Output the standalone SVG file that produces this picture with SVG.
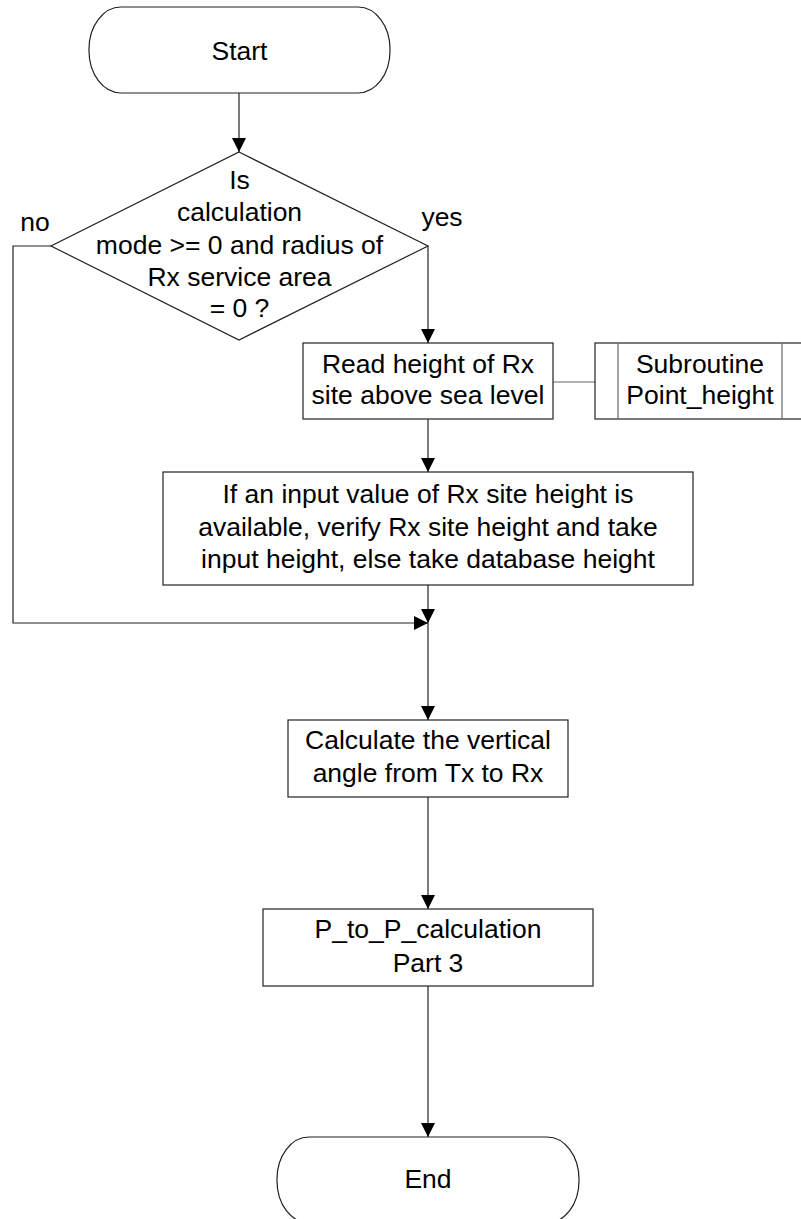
<svg xmlns="http://www.w3.org/2000/svg" width="801" height="1219" viewBox="0 0 801 1219">
<style>
.s{fill:#fff;stroke:#222;stroke-width:1.2}
.t{font-family:"Liberation Sans",Arial,sans-serif;font-size:26.5px;fill:#000;text-anchor:middle}
.c{fill:none;stroke:#222;stroke-width:1.2}
.g{stroke:#666;stroke-width:1.2}
</style>
<defs>
<marker id="ah" markerUnits="userSpaceOnUse" markerWidth="14" markerHeight="14" viewBox="0 0 14 14" refX="14" refY="7" orient="auto">
<path d="M0,0 L14,7 L0,14 Z" fill="#000"/>
</marker>
</defs>
<rect width="801" height="1219" fill="#fff"/>
<g id="connectors">
<path class="c" d="M239,93 V152" marker-end="url(#ah)"/>
<path class="c" d="M428,246 V343" marker-end="url(#ah)"/>
<path class="c" d="M51,246 H13 V623 H428" marker-end="url(#ah)"/>
<path class="c" d="M428,419 V472" marker-end="url(#ah)"/>
<path class="c g" d="M553,382 H595"/>
<path class="c" d="M428,585 V623" marker-end="url(#ah)"/>
<path class="c" d="M428,623 V720" marker-end="url(#ah)"/>
<path class="c" d="M428,797 V909" marker-end="url(#ah)"/>
<path class="c" d="M428,986 V1137" marker-end="url(#ah)"/>
</g>
<g id="start">
<rect class="s" x="89" y="7" width="301" height="86" rx="32" ry="42"/>
<text class="t" x="239.5" y="60">Start</text>
</g>
<g id="decision">
<polygon class="s" points="239,152 428,246 239,340 51,246"/>
<text class="t" x="239.5" y="189">Is</text>
<text class="t" x="239.5" y="221">calculation</text>
<text class="t" x="239.5" y="254">mode &gt;= 0 and radius of</text>
<text class="t" x="239.5" y="286">Rx service area</text>
<text class="t" x="239.5" y="317">= 0 ?</text>
</g>
<g id="label-no"><text class="t" x="35" y="231">no</text></g>
<g id="label-yes"><text class="t" x="442" y="226">yes</text></g>
<g id="read">
<rect class="s" x="303" y="343" width="250" height="76"/>
<text class="t" x="428" y="373">Read height of Rx</text>
<text class="t" x="428" y="404">site above sea level</text>
</g>
<g id="subroutine">
<rect class="s" x="595" y="343" width="210" height="76"/>
<line class="g" x1="618" y1="343" x2="618" y2="419"/>
<line class="g" x1="782" y1="343" x2="782" y2="419"/>
<text class="t" x="700" y="373">Subroutine</text>
<text class="t" x="700" y="404">Point_height</text>
</g>
<g id="verify">
<rect class="s" x="163" y="472" width="530" height="113"/>
<text class="t" x="428" y="503">If an input value of Rx site height is</text>
<text class="t" x="428" y="536">available, verify Rx site height and take</text>
<text class="t" x="428" y="568">input height, else take database height</text>
</g>
<g id="calc">
<rect class="s" x="288" y="720" width="280" height="77"/>
<text class="t" x="428" y="749">Calculate the vertical</text>
<text class="t" x="428" y="782">angle from Tx to Rx</text>
</g>
<g id="ptop">
<rect class="s" x="263" y="909" width="330" height="77"/>
<text class="t" x="428" y="938">P_to_P_calculation</text>
<text class="t" x="428" y="972">Part 3</text>
</g>
<g id="end">
<rect class="s" x="277" y="1137" width="302" height="86" rx="32" ry="42"/>
<text class="t" x="428" y="1188">End</text>
</g>
</svg>
